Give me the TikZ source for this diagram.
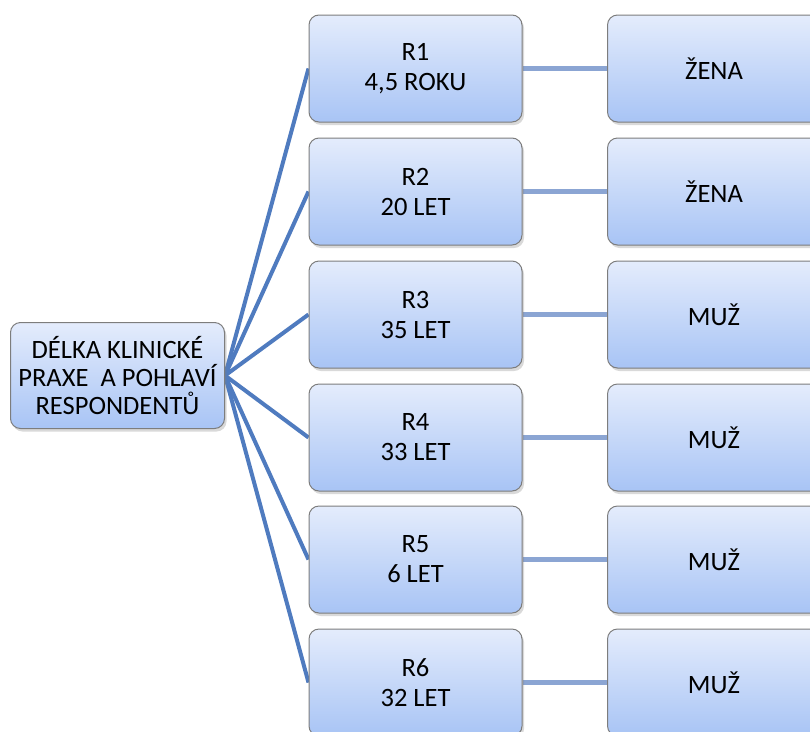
\documentclass[tikz,border=0pt]{standalone}
\usepackage{fontspec}
\setmainfont{Carlito}
\usetikzlibrary{shadows,backgrounds}
\definecolor{boxtop}{RGB}{228,236,252}
\definecolor{boxbot}{RGB}{168,196,245}
\definecolor{boxline}{RGB}{125,125,125}
\definecolor{fanline}{RGB}{79,123,191}
\definecolor{hline}{RGB}{139,165,211}
\begin{document}
\begin{tikzpicture}[x=1pt,y=-1pt,
  box/.style={rectangle, rounded corners=10pt, draw=boxline, line width=1pt,
    top color=boxtop, bottom color=boxbot, minimum width=213pt, minimum height=107pt,
    align=center, inner sep=0pt, font=\fontsize{26.5}{30}\selectfont,
    drop shadow={opacity=0.3, shadow xshift=2pt, shadow yshift=-3pt}},
  fan/.style={draw=fanline, line width=4pt},
  link/.style={draw=hline, line width=4.5pt}]
\useasboundingbox (0,0) rectangle (810,731);
\clip (0,0) rectangle (810,731);
\node[box, minimum width=214pt, minimum height=106pt, font=\fontsize{26.5}{28}\selectfont] (L) at (117.5,375.5)
  {DÉLKA KLINICKÉ\\PRAXE\ \ A POHLAVÍ\\RESPONDENTŮ};
\node[box] (M1) at (415.5,68.5) {R1\\4,5 ROKU};
\node[box] (M2) at (415.5,191.5) {R2\\20 LET};
\node[box] (M3) at (415.5,314.5) {R3\\35 LET};
\node[box] (M4) at (415.5,437.5) {R4\\33 LET};
\node[box] (M5) at (415.5,559.5) {R5\\6 LET};
\node[box] (M6) at (415.5,682.5) {R6\\32 LET};
\node[box] (F1) at (714,68.5) {ŽENA};
\node[box] (F2) at (714,191.5) {ŽENA};
\node[box] (F3) at (714,314.5) {MUŽ};
\node[box] (F4) at (714,437.5) {MUŽ};
\node[box] (F5) at (714,559.5) {MUŽ};
\node[box] (F6) at (714,682.5) {MUŽ};
\begin{pgfonlayer}{background}
  \foreach \i in {1,...,6}{
    \draw[fan] (L.east) -- (M\i.west);
    \draw[link] (M\i.east) -- (F\i.west);
  }
\end{pgfonlayer}
\end{tikzpicture}
\end{document}
